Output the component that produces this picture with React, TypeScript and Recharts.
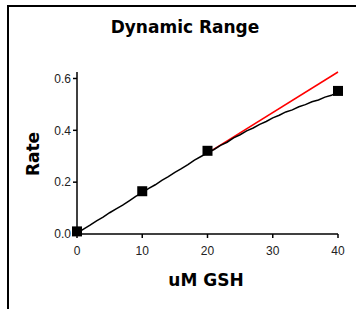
import React from 'react'
import { ComposedChart, Line, Scatter, XAxis, YAxis } from 'recharts'

// measured points (uM GSH vs rate)
const gsh = [0, 10, 20, 40]
const rate = [0.01, 0.165, 0.321, 0.552]

// fitted curve through the data
const curveX = [
  0, 1, 2, 3, 4, 5, 6, 7, 8, 9, 10, 11, 12, 13, 14, 15, 16, 17, 18, 19, 20,
  21, 22, 23, 24, 25, 26, 27, 28, 29, 30, 31, 32, 33, 34, 35, 36, 37, 38, 39, 40,
]
const curveY = [
  0.003, 0.019, 0.034, 0.051, 0.065, 0.082, 0.097, 0.111, 0.128, 0.145, 0.16,
  0.176, 0.19, 0.207, 0.221, 0.238, 0.252, 0.268, 0.285, 0.299, 0.313,
  0.326, 0.342, 0.354, 0.371, 0.383, 0.398, 0.409, 0.423, 0.434, 0.448,
  0.458, 0.471, 0.479, 0.491, 0.499, 0.51, 0.517, 0.528, 0.535, 0.548,
]

// linear trend extended past 20 uM
const trendX = [20, 40]
const trendY = [0.312, 0.625]

const xTicks = [0, 10, 20, 30, 40]
const yTicks = [0, 0.2, 0.4, 0.6]

const points = gsh.map((x, i) => ({ x, y: rate[i] }))
const curve = curveX.map((x, i) => ({ x, y: curveY[i] }))
const trend = trendX.map((x, i) => ({ x, y: trendY[i] }))

const tickStyle = { fontSize: 12, fill: '#222', fontFamily: '"Liberation Sans", Arial, sans-serif' }
const titleFont = '"DejaVu Sans", Verdana, sans-serif'

const Square = (props: { cx?: number; cy?: number }) => {
  const { cx = 0, cy = 0 } = props
  return <rect x={cx - 5} y={cy - 5} width={10} height={10} fill="#000" />
}

export default function App() {
  return (
    <div style={{ position: 'absolute', left: 0, top: 0, width: 356, height: 309, background: '#fff' }}>
      <div
        style={{
          position: 'absolute',
          left: 7,
          top: 5,
          right: 0,
          bottom: 0,
          borderTop: '2px solid #000',
          borderLeft: '2px solid #000',
        }}
      />
      <ComposedChart
        width={356}
        height={309}
        margin={{ top: 72, right: 18, bottom: 45, left: 37 }}
        style={{ position: 'absolute', left: 0, top: 0 }}
      >
        <XAxis
          type="number"
          dataKey="x"
          domain={[0, 40]}
          ticks={xTicks}
          height={30}
          tickSize={4}
          tickMargin={8}
          tick={tickStyle}
          axisLine={{ stroke: '#000', strokeWidth: 1.5 }}
          tickLine={{ stroke: '#000', strokeWidth: 1.5 }}
        />
        <YAxis
          type="number"
          dataKey="y"
          domain={[0, 0.6]}
          ticks={yTicks}
          width={40}
          tickSize={4}
          tickMargin={2}
          tickFormatter={(v: number) => v.toFixed(1)}
          tick={tickStyle}
          axisLine={{ stroke: '#000', strokeWidth: 1.5 }}
          tickLine={{ stroke: '#000', strokeWidth: 1.5 }}
        />
        <Line
          data={trend}
          dataKey="y"
          type="linear"
          stroke="#ff0000"
          strokeWidth={1.5}
          dot={false}
          isAnimationActive={false}
        />
        <Line
          data={curve}
          dataKey="y"
          type="linear"
          stroke="#000"
          strokeWidth={1.5}
          dot={false}
          isAnimationActive={false}
        />
        <Scatter data={points} shape={<Square />} isAnimationActive={false} />
      </ComposedChart>
      <svg width={356} height={309} style={{ position: 'absolute', left: 0, top: 0, pointerEvents: 'none' }}>
        <text x={185} y={33} textAnchor="middle" fontFamily={titleFont} fontWeight="bold" fontSize={17} fill="#000">
          Dynamic Range
        </text>
        <text x={206} y={285.5} textAnchor="middle" fontFamily={titleFont} fontWeight="bold" fontSize={17} fill="#000">
          uM GSH
        </text>
        <text
          x={39}
          y={154}
          textAnchor="middle"
          fontFamily={titleFont}
          fontWeight="bold"
          fontSize={17}
          fill="#000"
          transform="rotate(-90 39 154)"
        >
          Rate
        </text>
      </svg>
    </div>
  )
}
